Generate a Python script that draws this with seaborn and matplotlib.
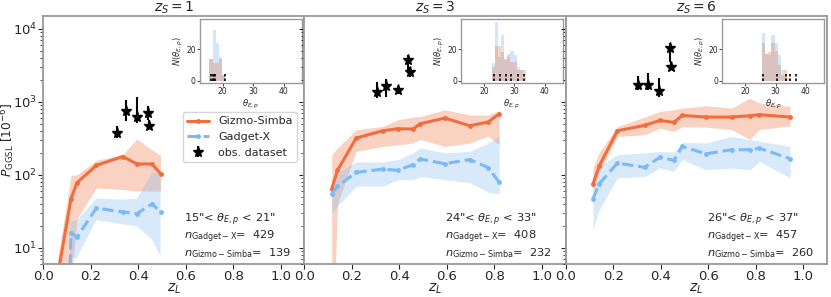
import numpy as np
import pandas as pd
import matplotlib
matplotlib.use('Agg')
import matplotlib.pyplot as plt
import seaborn as sns

# panels: source redshift, theta_E,p window and sample sizes
z_sources = [1, 3, 6]
theta_windows = [(15, 21), (24, 33), (26, 37)]
n_gadget = [429, 408, 457]
n_gizmo = [139, 232, 260]

# Gizmo-Simba: lens redshift, median P_GGSL and band (in 1e-6)
gizmo_z = [
    [0.06, 0.117, 0.142, 0.224, 0.335, 0.395, 0.458, 0.494],
    [0.115, 0.139, 0.218, 0.33, 0.394, 0.457, 0.488, 0.591, 0.696, 0.774, 0.82],
    [0.115, 0.141, 0.218, 0.333, 0.397, 0.456, 0.491, 0.591, 0.699, 0.776, 0.816, 0.945],
]
gizmo_p = [
    [4, 47, 78, 135, 178, 141, 141, 104],
    [64, 115, 319, 402, 429, 424, 501, 600, 471, 529, 688],
    [75, 131, 402, 476, 557, 523, 652, 619, 619, 646, 667, 619],
]
gizmo_lo = [
    [0.8, 3, 25, 66, 63, 60, 60, 60],
    [0.1, 40, 210, 245, 258, 272, 305, 245, 272, 340, 258],
    [60, 107, 336, 355, 436, 394, 460, 450, 418, 305, 418, 471],
]
gizmo_hi = [
    [6.5, 98, 100, 158, 190, 310, 220, 185],
    [189, 234, 415, 461, 569, 617, 630, 780, 660, 660, 760],
    [124, 200, 461, 619, 740, 780, 820, 886, 822, 1120, 960, 870],
]

# Gadget-X
gadget_z = [
    [0.09, 0.117, 0.142, 0.224, 0.335, 0.395, 0.458, 0.494],
    [0.115, 0.139, 0.218, 0.33, 0.394, 0.457, 0.488, 0.591, 0.696, 0.774, 0.82],
    [0.115, 0.141, 0.218, 0.333, 0.397, 0.456, 0.491, 0.591, 0.699, 0.776, 0.816, 0.945],
]
gadget_p = [
    [0.01, 16, 14, 35, 31, 29.5, 40, 31],
    [54, 70, 108, 120, 115, 138, 165, 142, 162, 126, 79],
    [47, 75, 145, 127, 174, 158, 245, 194, 221, 221, 231, 167],
]
gadget_lo = [
    [0.005, 7.2, 7.2, 24, 21, 19.6, 13, 7.6],
    [30, 37, 70, 70, 86, 86, 95, 86, 78, 58, 55],
    [18, 33, 91, 95, 124, 112, 162, 117, 124, 117, 153, 91],
]
gadget_hi = [
    [0.02, 23, 24, 47, 46, 47, 107, 105],
    [63, 107, 150, 150, 162, 200, 234, 200, 210, 273, 340],
    [70, 130, 189, 200, 210, 205, 279, 273, 336, 305, 290, 245],
]

# observed lenses
obs_z = [
    [0.311, 0.35, 0.395, 0.44, 0.446],
    [0.305, 0.345, 0.394, 0.436, 0.443],
    [0.305, 0.347, 0.394, 0.439, 0.442],
]
obs_p = [
    [374, 740, 630, 700, 460],
    [1346, 1660, 1466, 3770, 2530],
    [1680, 1680, 1430, 5430, 3050],
]
obs_lo = [
    [315, 540, 510, 560, 420],
    [1130, 1160, 1290, 2650, 2200],
    [1440, 1440, 1180, 3500, 2900],
]
obs_hi = [
    [460, 1070, 1180, 890, 560],
    [1900, 2040, 1670, 4400, 3000],
    [2240, 2460, 2110, 6360, 3500],
]
obs_theta = [
    [16.0, 16.9, 17.2, 17.5, 20.9],
    [23.2, 25.3, 27.4, 28.9, 31.1, 33.2],
    [25.7, 30.6, 33.4, 34.9, 36.8],
]

# theta_E,p histograms (bin edges and counts)
hist_edges = [
    [15.6, 16.65, 17.7, 18.75, 19.8, 20.85],
    [22.6, 23.62, 24.64, 25.66, 26.68, 27.7, 28.72, 29.74, 30.76, 31.78, 32.8, 33.82],
    [25.5, 26.55, 27.6, 28.65, 29.7, 30.75, 31.8, 32.85, 33.9, 34.95],
]
hist_gadget = [
    [14, 32, 24, 15, 4],
    [11, 37, 15, 29, 13, 15, 19, 16, 9, 7, 0],
    [30, 17, 16, 29, 24, 16, 7, 3, 0],
]
hist_gizmo = [
    [14, 11, 11, 14, 4],
    [9, 22, 22, 18, 14, 17, 12, 12, 7, 7, 7],
    [24, 17, 18, 24, 19, 10, 4, 7, 2],
]

sns.set_style('ticks')
plt.rcParams['font.family'] = ['DejaVu Sans']
plt.rcParams['font.size'] = 10

c_giz = '#f26d3d'
c_gad = '#7cbaf5'
c_giz_band = '#f08050'
c_gad_band = '#7fb8ee'
c_spine = '0.6'

fig, axes = plt.subplots(1, 3, figsize=(8.31, 2.97), dpi=100, sharey=True)
fig.subplots_adjust(left=0.052, right=0.995, bottom=0.111, top=0.946, wspace=0)

for i, ax in enumerate(axes):
    first = i == 0
    ax.fill_between(gizmo_z[i], gizmo_lo[i], gizmo_hi[i], color=c_giz_band, alpha=0.35, lw=0)
    ax.fill_between(gadget_z[i], gadget_lo[i], gadget_hi[i], color=c_gad_band, alpha=0.3, lw=0)
    sns.lineplot(x=gizmo_z[i], y=gizmo_p[i], ax=ax, color=c_giz, lw=2.2,
                 marker='o', markersize=3.5, markeredgewidth=0,
                 label='Gizmo-Simba' if first else None)
    sns.lineplot(x=gadget_z[i], y=gadget_p[i], ax=ax, color=c_gad, lw=2.2,
                 linestyle='--', marker='o', markersize=3.5, markeredgewidth=0,
                 label='Gadget-X' if first else None)
    p = np.array(obs_p[i])
    yerr = [p - np.array(obs_lo[i]), np.array(obs_hi[i]) - p]
    ax.errorbar(obs_z[i], p, yerr=yerr, fmt='*', color='k', ms=8,
                elinewidth=1.5, capsize=0,
                label='obs. dataset' if first else None)

    ax.set_yscale('log')
    ax.set_ylim(6, 1.5e4)
    ax.set_xlim(0, 1.1)
    ax.set_xticks([0.0, 0.2, 0.4, 0.6, 0.8, 1.0])
    ax.tick_params(which='major', length=3.5, width=0.8, pad=1, labelsize=9.5)
    ax.tick_params(which='minor', length=2, width=0.6)
    ax.set_xlabel(r'$z_L$', fontsize=10)
    ax.xaxis.set_label_coords(0.5, -0.072)
    ax.set_title(r'$z_S=%d$' % z_sources[i], fontsize=10, pad=3)
    for s in ax.spines.values():
        s.set_color(c_spine)
        s.set_linewidth(1.3)

    lo, hi = theta_windows[i]
    ax.text(0.54, 0.177, '%d"< $\\theta_{E,p}$ < %d"' % (lo, hi),
            transform=ax.transAxes, fontsize=8.2, va='center')
    ax.text(0.54, 0.109, r'$n_{\rm Gadget-X}$=  %d' % n_gadget[i],
            transform=ax.transAxes, fontsize=8.2, va='center')
    ax.text(0.54, 0.044, r'$n_{\rm Gizmo-Simba}$=  %d' % n_gizmo[i],
            transform=ax.transAxes, fontsize=8.2, va='center')

    # inset histogram
    ins = ax.inset_axes([0.6, 0.73, 0.39, 0.258])
    edges = list(hist_edges[i])
    hdf = pd.DataFrame({
        'theta': [0.5 * (a + b) for a, b in zip(edges[:-1], edges[1:])],
        'gadget': hist_gadget[i],
        'gizmo': hist_gizmo[i],
    })
    sns.histplot(data=hdf, x='theta', weights='gadget', bins=edges, ax=ins,
                 color=c_gad, alpha=0.35, edgecolor='none', linewidth=0)
    sns.histplot(data=hdf, x='theta', weights='gizmo', bins=edges, ax=ins,
                 color='#e8845a', alpha=0.35, edgecolor='none', linewidth=0)
    ins.vlines(obs_theta[i], 0, 4.5, colors='k', linestyles=(0, (1.5, 1.2)), lw=1.2)
    ins.set_xlim(12.5, 46)
    ins.set_ylim(-1.3, 38.8)
    ins.set_xticks([20, 30, 40])
    ins.set_yticks([0, 20])
    ins.tick_params(labelsize=5.5, length=2, width=0.6, pad=1)
    ins.set_xlabel(r'$\theta_{E,p}$', fontsize=6, labelpad=1)
    ins.set_ylabel(r'$N(\theta_{E,p})$', fontsize=6, labelpad=1)
    for s in ins.spines.values():
        s.set_color(c_spine)
        s.set_linewidth(1.0)

axes[0].set_ylabel(r'$P_{\rm GGSL}$ [$10^{-6}$]', fontsize=8.8)
axes[0].yaxis.set_label_coords(-0.1, 0.5)
axes[0].legend(loc='upper left', bbox_to_anchor=(0.534, 0.613), borderaxespad=0,
               fontsize=8)
for ax in axes[1:]:
    if ax.get_legend() is not None:
        ax.get_legend().remove()

fig.savefig('out.png', dpi=100)
